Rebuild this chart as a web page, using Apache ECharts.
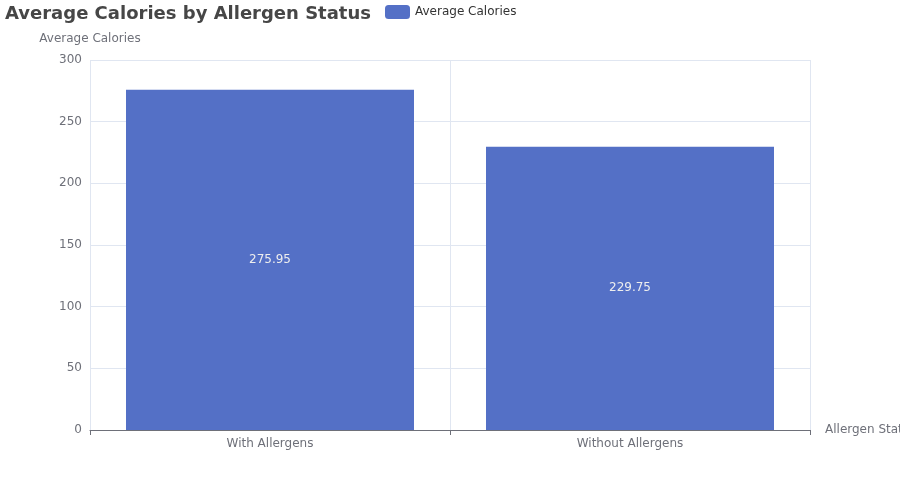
<!DOCTYPE html>
<html lang="en">
<head>
    <meta charset="UTF-8">
    <title>Average Calories by Allergen Status</title>
    <script src="https://cdn.jsdelivr.net/npm/echarts@6/dist/echarts.min.js"></script>
    <style>
        html, body { margin: 0; padding: 0; background: #fff; }
    </style>
</head>
<body>
<div id="main" style="width: 900px;height:500px;"></div>

<script type="text/javascript">
    // data
    var categories = ['With Allergens', 'Without Allergens'];
    var avgCalories = [275.95, 229.75];
    var yTicks = [0, 50, 100, 150, 200, 250, 300];

    var myChart = echarts.init(document.getElementById('main'));

    var option = {
        textStyle: { fontFamily: 'DejaVu Sans' },
        title: {
            text: 'Average Calories by Allergen Status',
            left: 0,
            top: 0,
            textStyle: { fontSize: 18, fontWeight: 'bold', color: '#464646', fontFamily: 'DejaVu Sans' }
        },
        legend: {
            data: ['Average Calories'],
            left: 380,
            top: 0,
            itemWidth: 25,
            itemHeight: 14,
            textStyle: { fontSize: 12, color: '#333', fontFamily: 'DejaVu Sans' }
        },
        grid: {
            left: 90,
            right: 90,
            top: 60,
            bottom: 70,
            containLabel: false,
            outerBoundsMode: 'none'
        },
        xAxis: {
            type: 'category',
            data: categories,
            name: 'Allergen Status',
            nameLocation: 'end',
            nameGap: 15,
            nameTextStyle: { color: '#6e7079', fontSize: 12 },
            axisLine: { lineStyle: { color: '#6e7079' } },
            axisTick: { show: true, lineStyle: { color: '#6e7079' } },
            axisLabel: { color: '#6e7079', fontSize: 12 },
            splitLine: { show: true, lineStyle: { color: '#e0e6f1' } }
        },
        yAxis: {
            type: 'value',
            name: 'Average Calories',
            min: yTicks[0],
            max: yTicks[yTicks.length - 1],
            interval: 50,
            nameTextStyle: { color: '#6e7079', fontSize: 12 },
            axisLabel: { color: '#6e7079', fontSize: 12 },
            splitLine: { lineStyle: { color: '#e0e6f1' } }
        },
        series: [
            {
                name: 'Average Calories',
                type: 'bar',
                data: avgCalories,
                barWidth: '80%',
                itemStyle: { color: '#5470c6' },
                label: {
                    show: true,
                    position: 'inside',
                    color: '#eee',
                    fontSize: 12
                }
            }
        ]
    };

    myChart.setOption(option);
</script>
</body>
</html>
